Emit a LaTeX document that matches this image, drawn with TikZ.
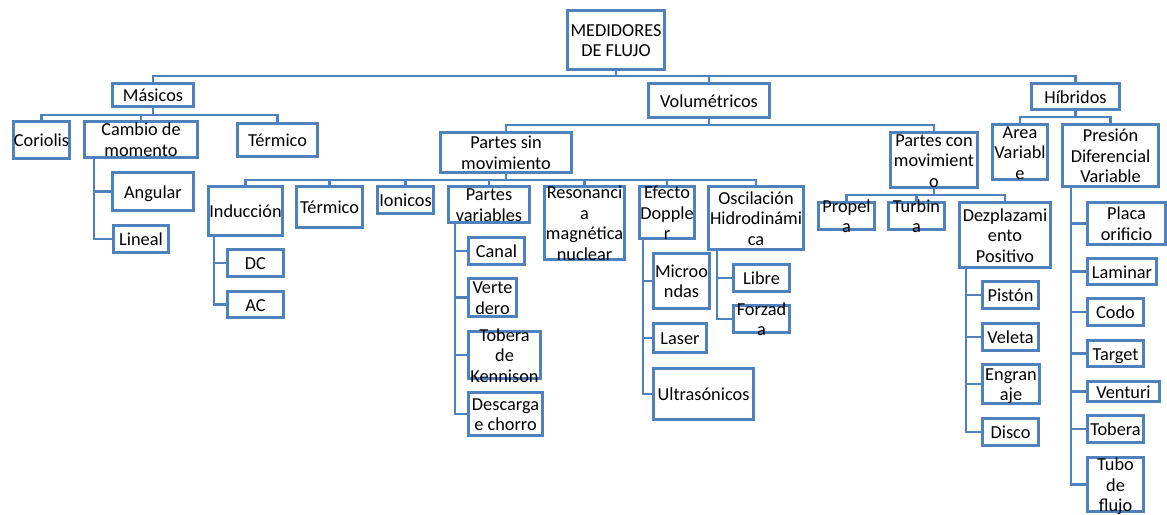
\documentclass[tikz,border=0pt]{standalone}
\usepackage{fontspec}
\setmainfont{Carlito}
\usepackage{tikz}
\definecolor{caja}{RGB}{79,129,189}
\newcommand{\cel}[1]{\makebox[0pt]{\raisebox{-6.8pt}[0pt][0pt]{\begin{tabular}{@{}c@{}}#1\end{tabular}}}}

\begin{document}
\begin{tikzpicture}[x=1pt, y=-1pt, line width=2.6pt, color=caja,
    box/.style={draw=caja, fill=white, text=black, inner sep=0pt, font=\fontsize{18.3}{20.5}\selectfont}]
  \useasboundingbox (0,0) rectangle (1167,514);

  \node[box, minimum width=97.5, minimum height=59.5] (med) at (616,40) {\cel{MEDIDORES\\DE FLUJO}};
  \node[box, minimum width=81.5, minimum height=23.5] (mas) at (153,95) {\cel{Másicos}};
  \node[box, minimum width=121.5, minimum height=34.5] (vol) at (709,100.5) {\cel{Volumétricos}};
  \node[box, minimum width=88.5, minimum height=26.5] (hib) at (1075.5,96.5) {\cel{Híbridos}};

  \node[box, minimum width=56.5, minimum height=37.5] (cor) at (41.5,140) {\cel{Coriolis}};
  \node[box, minimum width=113.5, minimum height=36.5] (cam) at (141,139.5) {\cel{Cambio de\\momento}};
  \node[box, minimum width=80.5, minimum height=33.5] (ter1) at (277.5,140) {\cel{Térmico}};
  \node[box, minimum width=81.5, minimum height=38.5] (ang) at (153,191.5) {\cel{Angular}};
  \node[box, minimum width=55.5, minimum height=27.5] (lin) at (141,239) {\cel{Lineal}};

  \node[box, minimum width=131.5, minimum height=40.5] (psm) at (506,152.5) {\cel{Partes sin\\movimiento}};
  \node[box, minimum width=87.5, minimum height=55.5] (pcm) at (934,160) {\cel{Partes con\\movimient\\o}};
  \node[box, minimum width=55.5, minimum height=55.5] (arv) at (1020,152) {\cel{Area\\Variabl\\e}};
  \node[box, minimum width=96.5, minimum height=62.5] (pdv) at (1110.5,155.5) {\cel{Presión\\Diferencial\\Variable}};

  \node[box, minimum width=74.5, minimum height=49.5] (ind) at (245.5,211) {\cel{Inducción}};
  \node[box, minimum width=66.5, minimum height=41.5] (ter2) at (329.5,207) {\cel{Térmico}};
  \node[box, minimum width=56.5, minimum height=27.5] (ion) at (405.5,200) {\cel{Ionicos}};
  \node[box, minimum width=81.5, minimum height=36.5] (pva) at (489,204.5) {\cel{Partes\\variables}};
  \node[box, minimum width=80.5, minimum height=73.5] (res) at (584.5,223) {\cel{Resonanci\\a\\magnética\\nuclear}};
  \node[box, minimum width=55.5, minimum height=52.5] (edo) at (667,212.5) {\cel{Efecto\\Dopple\\r}};
  \node[box, minimum width=95.5, minimum height=63.5] (osc) at (756,218) {\cel{Oscilación\\Hidrodinámi\\ca}};

  \node[box, minimum width=56.5, minimum height=27.5] (dc) at (255.5,263) {\cel{DC}};
  \node[box, minimum width=56.5, minimum height=26.5] (ac) at (255.5,304.5) {\cel{AC}};

  \node[box, minimum width=56.5, minimum height=27.5] (can) at (496.5,251) {\cel{Canal}};
  \node[box, minimum width=48.5, minimum height=38.5] (ver) at (492.5,297.5) {\cel{Verte\\dero}};
  \node[box, minimum width=72.5, minimum height=47.5] (tok) at (504.5,355) {\cel{Tobera\\de\\Kennison}};
  \node[box, minimum width=74.5, minimum height=43.5] (dch) at (505.5,414) {\cel{Descarga\\e chorro}};

  \node[box, minimum width=56.5, minimum height=55.5] (mic) at (681.5,281) {\cel{Microo\\ndas}};
  \node[box, minimum width=53.5, minimum height=29.5] (las) at (680,338) {\cel{Laser}};
  \node[box, minimum width=100.5, minimum height=51.5] (ult) at (703.5,394) {\cel{Ultrasónicos}};

  \node[box, minimum width=56.5, minimum height=27.5] (lib) at (761.5,278) {\cel{Libre}};
  \node[box, minimum width=56.5, minimum height=27.5] (frz) at (761.5,319) {\cel{Forzad\\a}};

  \node[box, minimum width=56.5, minimum height=27.5] (pro) at (846.5,216) {\cel{Propel\\a}};
  \node[box, minimum width=56.5, minimum height=27.5] (tur) at (916.5,216) {\cel{Turbin\\a}};
  \node[box, minimum width=91.5, minimum height=65.5] (dez) at (1005,235) {\cel{Dezplazami\\ento\\Positivo}};

  \node[box, minimum width=56.5, minimum height=27.5] (pis) at (1010.5,295) {\cel{Pistón}};
  \node[box, minimum width=56.5, minimum height=27.5] (vel) at (1010.5,337) {\cel{Veleta}};
  \node[box, minimum width=57.5, minimum height=39.5] (eng) at (1011,384) {\cel{Engran\\aje}};
  \node[box, minimum width=56.5, minimum height=27.5] (dis) at (1010.5,432) {\cel{Disco}};

  \node[box, minimum width=78, minimum height=42.5] (pla) at (1126.5,223.5) {\cel{Placa\\orificio}};
  \node[box, minimum width=69.5, minimum height=26.5] (lam) at (1122,271.5) {\cel{Laminar}};
  \node[box, minimum width=56.5, minimum height=27.5] (cod) at (1115.5,312) {\cel{Codo}};
  \node[box, minimum width=56.5, minimum height=26.5] (tar) at (1115.5,353.5) {\cel{Target}};
  \node[box, minimum width=72.5, minimum height=20.5] (ven) at (1123.5,391.5) {\cel{Venturi}};
  \node[box, minimum width=56.5, minimum height=27.5] (tob) at (1115.5,429) {\cel{Tobera}};
  \node[box, minimum width=56.5, minimum height=54.5] (tdf) at (1115.5,484.5) {\cel{Tubo\\de\\flujo}};

  \draw (med.south) -- (med.south |- 0,76) -| (mas.north)
        (med.south |- 0,76) -| (vol.north)
        (med.south |- 0,76) -| (hib.north);
  \draw (mas.south) -- (mas.south |- 0,115) -| (cor.north)
        (mas.south |- 0,115) -| (cam.north)
        (mas.south |- 0,115) -| (ter1.north);
  \draw (vol.south) -- (vol.south |- 0,125) -| (psm.north)
        (vol.south |- 0,125) -| (pcm.north);
  \draw (hib.south) -- (hib.south |- 0,117) -| (arv.north)
        (hib.south |- 0,117) -| (pdv.north);
  \draw (psm.south) -- (psm.south |- 0,180) -| (ind.north)
        (psm.south |- 0,180) -| (ter2.north)
        (psm.south |- 0,180) -| (ion.north)
        (psm.south |- 0,180) -| (pva.north)
        (psm.south |- 0,180) -| (res.north)
        (psm.south |- 0,180) -| (edo.north)
        (psm.south |- 0,180) -| (osc.north);
  \draw (pcm.south) -- (pcm.south |- 0,195) -| (pro.north)
        (pcm.south |- 0,195) -| (tur.north)
        (pcm.south |- 0,195) -| (dez.north);

  \draw ([xshift=11]cam.south west) |- (ang.west)
        ([xshift=11]cam.south west) |- (lin.west);
  \draw ([xshift=7]ind.south west) |- (dc.west)
        ([xshift=7]ind.south west) |- (ac.west);
  \draw ([xshift=8]pva.south west) |- (can.west)
        ([xshift=8]pva.south west) |- (ver.west)
        ([xshift=8]pva.south west) |- (tok.west)
        ([xshift=8]pva.south west) |- (dch.west);
  \draw ([xshift=5]edo.south west) |- (mic.west)
        ([xshift=5]edo.south west) |- (las.west)
        ([xshift=5]edo.south west) |- (ult.west);
  \draw ([xshift=10]osc.south west) |- (lib.west)
        ([xshift=10]osc.south west) |- (frz.west);
  \draw ([xshift=8]dez.south west) |- (pis.west)
        ([xshift=8]dez.south west) |- (vel.west)
        ([xshift=8]dez.south west) |- (eng.west)
        ([xshift=8]dez.south west) |- (dis.west);
  \draw ([xshift=10]pdv.south west) |- (pla.west)
        ([xshift=10]pdv.south west) |- (lam.west)
        ([xshift=10]pdv.south west) |- (cod.west)
        ([xshift=10]pdv.south west) |- (tar.west)
        ([xshift=10]pdv.south west) |- (ven.west)
        ([xshift=10]pdv.south west) |- (tob.west)
        ([xshift=10]pdv.south west) |- (tdf.west);
\end{tikzpicture}
\end{document}
